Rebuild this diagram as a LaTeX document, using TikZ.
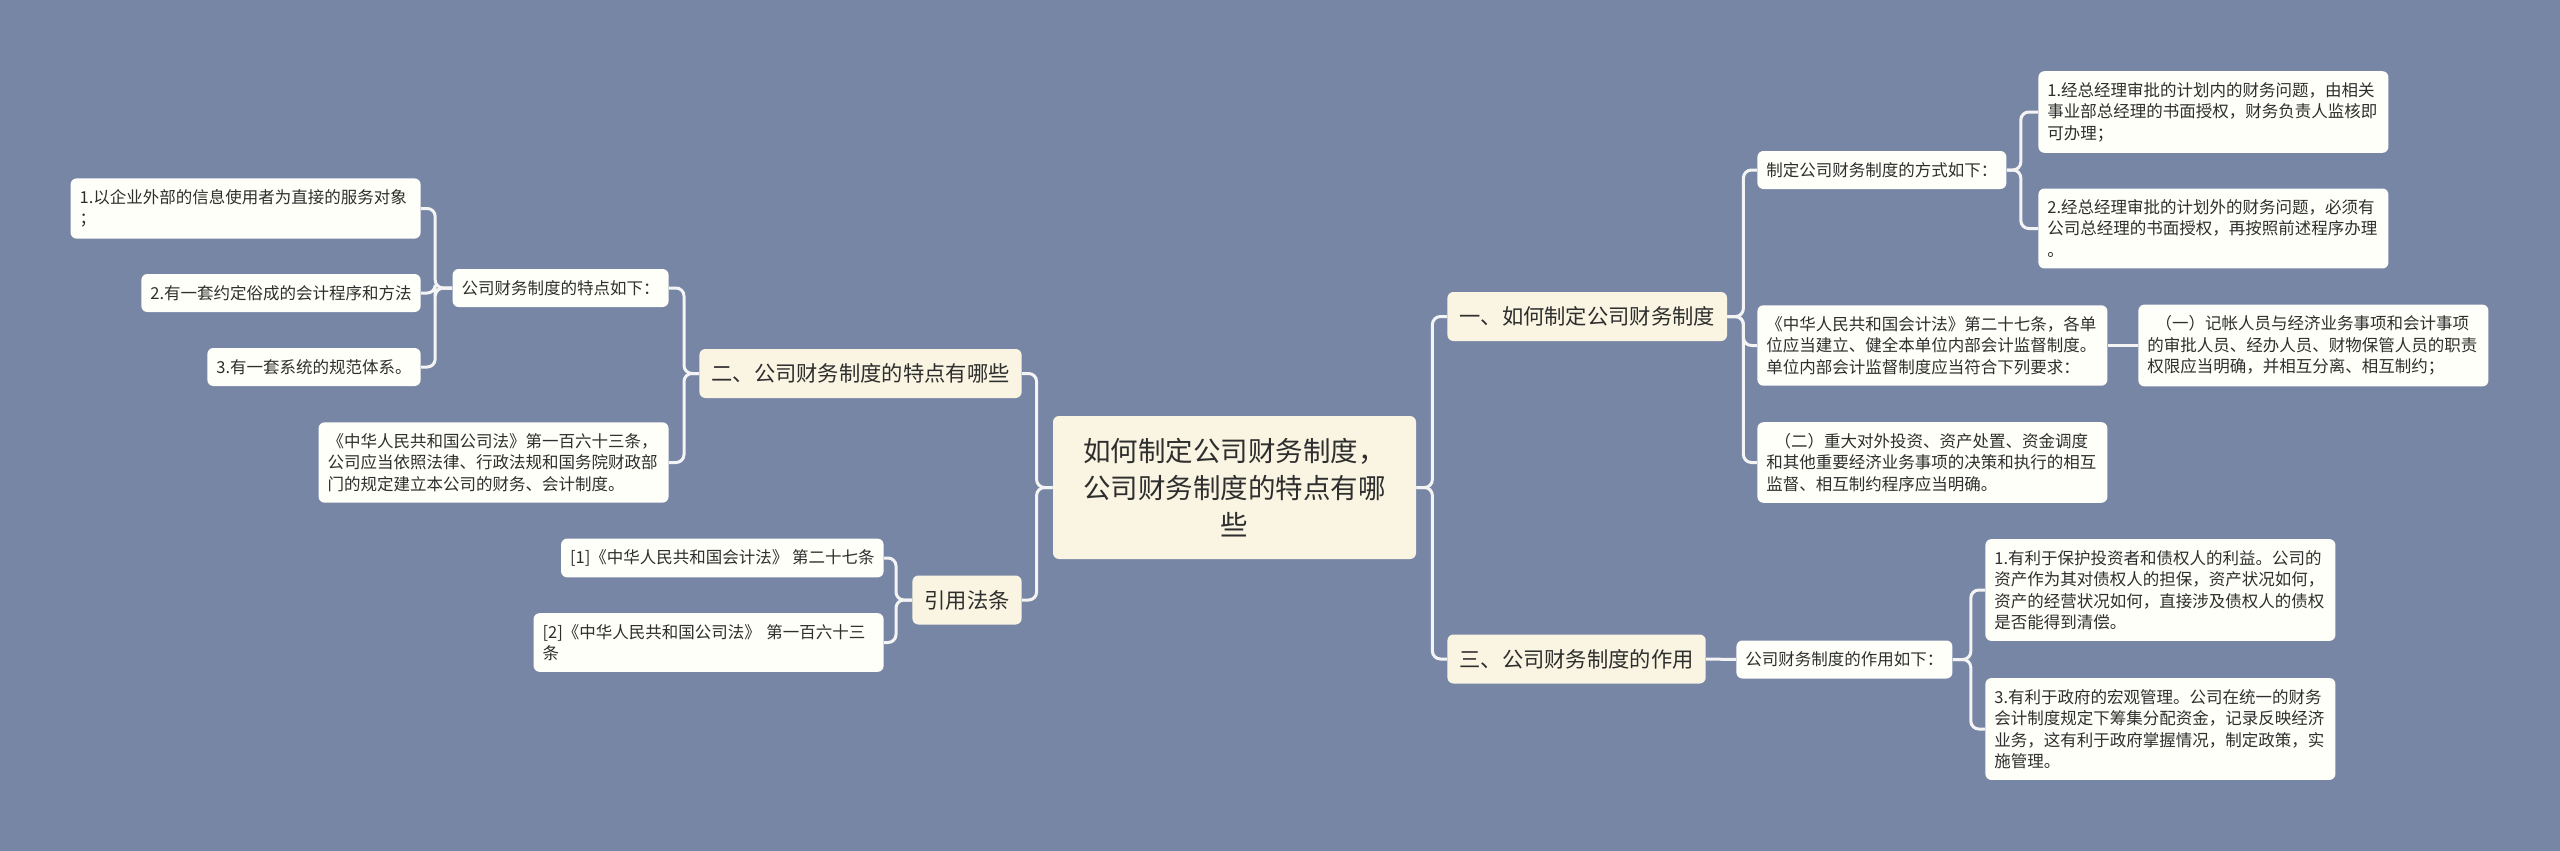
\documentclass[tikz,border=0pt]{standalone}
\usepackage{fontspec}
\setmainfont{Noto Sans CJK SC}
\usetikzlibrary{positioning}
\definecolor{bgblue}{HTML}{7886A6}
\definecolor{rootfill}{HTML}{F9F5E2}
\definecolor{leaffill}{HTML}{FFFFF9}
\definecolor{linkwhite}{HTML}{F4F4F4}
\definecolor{inkgray}{HTML}{2E2E2E}

\tikzset{
  rootbox/.style={fill=rootfill, rounded corners=3pt, text=inkgray, align=center,
    minimum width=181.5pt, minimum height=71.5pt, inner sep=0pt,
    font=\fontsize{13.75pt}{18.5pt}\selectfont},
  branchbox/.style={fill=rootfill, rounded corners=3pt, text=inkgray,
    minimum height=24.5pt, inner xsep=6pt, inner ysep=4pt,
    font=\fontsize{10.65pt}{14pt}\selectfont},
  leafbox/.style={fill=leaffill, rounded corners=3pt, text=inkgray, align=left,
    minimum height=19pt, inner xsep=4.5pt, inner ysep=5.5pt,
    font=\fontsize{8.25pt}{10.75pt}\selectfont},
  widebox/.style={leafbox, text width=166pt},
  link/.style={draw=linkwhite, line width=1.5pt, rounded corners=4pt},
}

\begin{document}
\begin{tikzpicture}[x=0.5pt, y=-0.5pt]
      \fill[bgblue] (0,0) rectangle (2560,851);
      \useasboundingbox (0,0) rectangle (2560,851);

      \node[rootbox] (root) at (1234.5,487.5) {如何制定公司财务制度，\\公司财务制度的特点有哪\\些};

      % right side
      \node[branchbox, anchor=west] (bA) at (1447,316.5) {一、如何制定公司财务制度};
      \node[leafbox, anchor=west] (way) at (1757,170) {制定公司财务制度的方式如下：};
      \node[widebox, anchor=west] (way1) at (2038,112) {1.经总经理审批的计划内的财务问题，由相关\\事业部总经理的书面授权，财务负责人监核即\\可办理；};
      \node[widebox, anchor=west] (way2) at (2038,228.5) {2.经总经理审批的计划外的财务问题，必须有\\公司总经理的书面授权，再按照前述程序办理\\。};
      \node[widebox, anchor=west] (acc) at (1757,345.5) {《中华人民共和国会计法》第二十七条，各单\\位应当建立、健全本单位内部会计监督制度。\\单位内部会计监督制度应当符合下列要求：};
      \node[widebox, anchor=west] (acc1) at (2138,345.5) {\hspace*{0.5em}（一）记帐人员与经济业务事项和会计事项\\的审批人员、经办人员、财物保管人员的职责\\权限应当明确，并相互分离、相互制约；};
      \node[widebox, anchor=west] (acc2) at (1757,462.5) {\hspace*{0.5em}（二）重大对外投资、资产处置、资金调度\\和其他重要经济业务事项的决策和执行的相互\\监督、相互制约程序应当明确。};

      \node[branchbox, anchor=west] (bD) at (1447,659) {三、公司财务制度的作用};
      \node[leafbox, anchor=west] (role) at (1736,659.5) {公司财务制度的作用如下：};
      \node[widebox, anchor=west] (role1) at (1985,590) {1.有利于保护投资者和债权人的利益。公司的\\资产作为其对债权人的担保，资产状况如何，\\资产的经营状况如何，直接涉及债权人的债权\\是否能得到清偿。};
      \node[widebox, anchor=west] (role3) at (1985,729) {3.有利于政府的宏观管理。公司在统一的财务\\会计制度规定下筹集分配资金，记录反映经济\\业务，这有利于政府掌握情况，制定政策，实\\施管理。};

      % left side
      \node[branchbox, anchor=east] (bB) at (1022,373.5) {二、公司财务制度的特点有哪些};
      \node[leafbox, anchor=east] (feat) at (669,288) {公司财务制度的特点如下：};
      \node[widebox, anchor=east] (feat1) at (421,208.5) {1.以企业外部的信息使用者为直接的服务对象\\；};
      \node[leafbox, anchor=east] (feat2) at (421,293) {2.有一套约定俗成的会计程序和方法};
      \node[leafbox, anchor=east] (feat3) at (421,367) {3.有一套系统的规范体系。};
      \node[widebox, anchor=east] (corp) at (669,462.5) {《中华人民共和国公司法》第一百六十三条，\\公司应当依照法律、行政法规和国务院财政部\\门的规定建立本公司的财务、会计制度。};

      \node[branchbox, anchor=east] (bC) at (1022,600) {引用法条};
      \node[leafbox, anchor=east] (cite1) at (884,558) {[1]《中华人民共和国会计法》 第二十七条};
      \node[widebox, anchor=east] (cite2) at (884,642.5) {[2]《中华人民共和国公司法》 第一百六十三\\条};

      % links
      \draw[link] (root.east) -- ++(16,0) |- (bA.west);
      \draw[link] (root.east) -- ++(16,0) |- (bD.west);
      \draw[link] (root.west) -- ++(-16,0) |- (bB.east);
      \draw[link] (root.west) -- ++(-16,0) |- (bC.east);

      \draw[link] (bA.east) -- ++(16,0) |- (way.west);
      \draw[link] (bA.east) -- ++(16,0) |- (acc.west);
      \draw[link] (bA.east) -- ++(16,0) |- (acc2.west);
      \draw[link] (way.east) -- ++(14,0) |- (way1.west);
      \draw[link] (way.east) -- ++(14,0) |- (way2.west);
      \draw[link] (acc.east) -- (acc1.west);
      \draw[link] (bD.east) -- (role.west);
      \draw[link] (role.east) -- ++(18,0) |- (role1.west);
      \draw[link] (role.east) -- ++(18,0) |- (role3.west);

      \draw[link] (bB.west) -- ++(-15,0) |- (feat.east);
      \draw[link] (bB.west) -- ++(-15,0) |- (corp.east);
      \draw[link] (feat.west) -- ++(-17,0) |- (feat1.east);
      \draw[link] (feat.west) -- ++(-17,0) |- (feat2.east);
      \draw[link] (feat.west) -- ++(-17,0) |- (feat3.east);
      \draw[link] (bC.west) -- ++(-16,0) |- (cite1.east);
      \draw[link] (bC.west) -- ++(-16,0) |- (cite2.east);
\end{tikzpicture}
\end{document}
